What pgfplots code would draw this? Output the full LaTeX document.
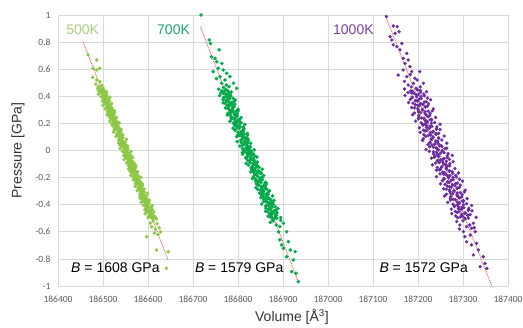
\documentclass[border=0pt]{standalone}
\usepackage{pgfplots}
\pgfplotsset{compat=1.18}
\usepackage{fontspec}
\setmainfont{Liberation Sans}
\newfontfamily\carlito{Carlito}
\definecolor{gridgray}{RGB}{217,217,217}
\definecolor{tickgray}{RGB}{89,89,89}
\definecolor{cA}{RGB}{140,200,70}
\definecolor{cB}{RGB}{0,170,75}
\definecolor{cC}{RGB}{108,45,160}
\definecolor{lA}{RGB}{165,208,130}
\definecolor{lB}{RGB}{30,165,105}
\definecolor{lC}{RGB}{118,62,168}
\definecolor{fitred}{RGB}{225,85,65}
\begin{document}
\begin{tikzpicture}
\begin{axis}[
  scale only axis, width=450pt, height=271pt,
  xmin=186400, xmax=187400, ymin=-1, ymax=1,
  xtick={186400,186500,186600,186700,186800,186900,187000,187100,187200,187300,187400},
  xticklabels={186400,186500,186600,186700,186800,186900,187000,187100,187200,187300,187400},
  ytick={-1,-0.8,-0.6,-0.4,-0.2,0,0.2,0.4,0.6,0.8,1},
  yticklabels={-1,-0.8,-0.6,-0.4,-0.2,0,0.2,0.4,0.6,0.8,1},
  scaled x ticks=false,
  xmajorgrids, ymajorgrids,
  grid style={gridgray, line width=0.7pt},
  axis line style={gridgray, line width=0.7pt},
  major tick length=0pt,
  ticklabel style={font=\carlito\fontsize{9.5}{11}\selectfont, text=tickgray},
  xticklabel style={yshift=-6pt},
  yticklabel style={xshift=-4pt},
  xlabel={Volume [Å\textsuperscript{3}]},
  ylabel={Pressure [GPa]},
  label style={font=\fontsize{14}{16}\selectfont, text=black!80},
  xlabel style={at={(axis description cs:0.52,-0.114)}, anchor=center},
  ylabel style={at={(axis description cs:-0.0889,0.5)}, anchor=center},
]
% 500K
\addplot[only marks, mark=*, mark size=1.6pt, color=cA] table[row sep=\\]{x y\\
186494 0.453\\186502 0.446\\186490 0.443\\186499 0.436\\186508 0.433\\186494 0.426\\186502 0.423\\186490 0.416\\186508 0.413\\186501 0.406\\186507 0.403\\186496 0.396\\186515 0.393\\186502 0.386\\186512 0.383\\186501 0.376\\186506 0.373\\186514 0.366\\186499 0.363\\186511 0.356\\186503 0.353\\186519 0.346\\186507 0.343\\186512 0.336\\186500 0.333\\186516 0.326\\186513 0.323\\186507 0.316\\186520 0.313\\186505 0.306\\186519 0.303\\186525 0.296\\186515 0.293\\186510 0.286\\186526 0.283\\186520 0.276\\186514 0.273\\186524 0.266\\186509 0.263\\186519 0.256\\186524 0.253\\186514 0.246\\186530 0.243\\186520 0.236\\186518 0.233\\186528 0.226\\186525 0.223\\186515 0.216\\186531 0.213\\186522 0.206\\186536 0.203\\186520 0.196\\186527 0.193\\186532 0.186\\186521 0.183\\186531 0.176\\186535 0.173\\186526 0.166\\186531 0.163\\186540 0.156\\186525 0.153\\186535 0.146\\186540 0.143\\186523 0.136\\186537 0.133\\186533 0.126\\186531 0.123\\186544 0.116\\186541 0.113\\186536 0.106\\186529 0.103\\186544 0.096\\186540 0.093\\186536 0.086\\186552 0.083\\186535 0.076\\186540 0.073\\186545 0.066\\186549 0.063\\186535 0.056\\
186541 0.053\\186549 0.046\\186537 0.043\\186546 0.036\\186555 0.033\\186541 0.026\\186550 0.023\\186538 0.016\\186555 0.013\\186548 0.006\\186554 0.003\\186543 -0.004\\186562 -0.007\\186549 -0.014\\186559 -0.017\\186548 -0.024\\186554 -0.027\\186562 -0.034\\186546 -0.037\\186558 -0.044\\186550 -0.047\\186566 -0.054\\186554 -0.057\\186559 -0.064\\186547 -0.067\\186563 -0.074\\186560 -0.077\\186554 -0.084\\186568 -0.087\\186553 -0.094\\186566 -0.097\\186572 -0.104\\186562 -0.107\\186557 -0.114\\186573 -0.117\\186567 -0.124\\186561 -0.127\\186571 -0.134\\186557 -0.137\\186567 -0.144\\186571 -0.147\\186561 -0.154\\186577 -0.157\\186567 -0.164\\186565 -0.167\\186575 -0.174\\186572 -0.177\\186562 -0.184\\186578 -0.187\\186569 -0.194\\186584 -0.197\\186568 -0.204\\186574 -0.207\\186579 -0.214\\186568 -0.217\\186578 -0.224\\186582 -0.227\\186573 -0.234\\186578 -0.237\\186587 -0.244\\186573 -0.247\\186583 -0.254\\186588 -0.257\\186571 -0.264\\186584 -0.267\\186580 -0.274\\186578 -0.277\\186591 -0.284\\186588 -0.287\\186583 -0.294\\186576 -0.297\\186591 -0.304\\186588 -0.307\\186584 -0.314\\186599 -0.317\\186582 -0.324\\186587 -0.327\\186592 -0.334\\186596 -0.337\\186582 -0.344\\186588 -0.347\\186596 -0.354\\186584 -0.357\\186593 -0.364\\186603 -0.367\\186589 -0.374\\186597 -0.377\\186585 -0.384\\186602 -0.387\\186595 -0.394\\186601 -0.397\\186590 -0.404\\186609 -0.407\\186596 -0.414\\186607 -0.417\\186596 -0.424\\186601 -0.427\\186609 -0.434\\186593 -0.437\\186605 -0.444\\186597 -0.447\\186613 -0.454\\186601 -0.457\\186606 -0.464\\186594 -0.467\\186610 -0.474\\186608 -0.477\\186602 -0.484\\186615 -0.487\\186600 -0.494\\186613 -0.497\\186619 -0.504\\
186467 0.705\\186486 0.668\\186478 0.607\\186486 0.594\\186493 0.607\\186477 0.54\\186486 0.52\\186493 0.508\\186484 0.49\\186497 0.48\\186490 0.47\\186500 0.462\\186488 0.458\\186612 -0.52\\186605 -0.535\\186620 -0.54\\186608 -0.562\\186616 -0.58\\186625 -0.57\\186597 -0.636\\186614 -0.61\\186619 -0.734\\186645 -0.747\\186641 -0.87\\186622 -0.62\\186628 -0.6\\
186499 0.45\\186495 0.44\\186503 0.43\\186499 0.42\\186502 0.41\\186506 0.40\\186500 0.39\\186506 0.38\\186504 0.37\\186513 0.36\\186504 0.35\\186512 0.34\\186510 0.33\\186515 0.32\\186510 0.31\\186515 0.30\\186520 0.29\\186515 0.28\\186519 0.27\\186515 0.26\\186523 0.25\\186519 0.24\\186527 0.23\\186523 0.22\\186525 0.21\\186529 0.20\\186524 0.19\\186530 0.18\\186528 0.17\\186536 0.16\\186527 0.15\\186535 0.14\\186534 0.13\\186539 0.12\\186534 0.11\\186538 0.10\\186543 0.09\\186539 0.08\\186543 0.07\\186539 0.06\\186546 0.05\\186542 0.04\\186550 0.03\\186547 0.02\\186549 0.01\\186553 0.00\\186547 -0.01\\186553 -0.02\\186552 -0.03\\186560 -0.04\\186551 -0.05\\186559 -0.06\\186557 -0.07\\186562 -0.08\\186558 -0.09\\186562 -0.10\\186567 -0.11\\186562 -0.12\\186566 -0.13\\186563 -0.14\\186570 -0.15\\186566 -0.16\\186574 -0.17\\186570 -0.18\\186572 -0.19\\186577 -0.20\\186571 -0.21\\186577 -0.22\\186575 -0.23\\186583 -0.24\\186575 -0.25\\186583 -0.26\\186581 -0.27\\186586 -0.28\\186581 -0.29\\186585 -0.30\\186591 -0.31\\186586 -0.32\\186590 -0.33\\186586 -0.34\\186593 -0.35\\186589 -0.36\\186598 -0.37\\186594 -0.38\\186596 -0.39\\186600 -0.40\\186594 -0.41\\186601 -0.42\\186599 -0.43\\186607 -0.44\\186598 -0.45\\186606 -0.46\\186604 -0.47\\186610 -0.48\\186605 -0.49\\186609 -0.50\\
};
% 700K
\addplot[only marks, mark=*, mark size=1.6pt, color=cB] table[row sep=\\]{x y\\
186757 0.452\\186773 0.445\\186777 0.442\\186767 0.435\\186785 0.432\\186762 0.425\\186767 0.422\\186782 0.415\\186776 0.412\\186759 0.405\\186784 0.402\\186774 0.395\\186769 0.392\\186789 0.385\\186781 0.382\\186767 0.375\\186794 0.372\\186774 0.365\\186778 0.362\\186786 0.355\\186767 0.352\\186782 0.345\\186793 0.342\\186776 0.335\\186779 0.332\\186791 0.325\\186789 0.322\\186772 0.315\\186776 0.312\\186800 0.305\\186787 0.302\\186782 0.295\\186800 0.292\\186791 0.285\\186783 0.282\\186778 0.275\\186798 0.272\\186792 0.265\\186776 0.262\\186798 0.255\\186796 0.252\\186785 0.245\\186807 0.242\\186792 0.235\\186785 0.232\\186800 0.225\\186802 0.222\\186782 0.215\\186798 0.212\\186807 0.205\\186790 0.202\\186795 0.195\\186815 0.192\\186793 0.185\\186798 0.182\\186805 0.175\\186812 0.172\\186789 0.165\\186802 0.162\\186812 0.155\\186793 0.152\\186810 0.145\\186812 0.142\\186800 0.135\\186801 0.132\\186821 0.125\\186810 0.122\\186799 0.115\\186821 0.112\\186809 0.105\\186797 0.102\\186813 0.095\\186816 0.092\\186822 0.085\\186809 0.082\\186806 0.075\\186823 0.072\\186798 0.065\\186815 0.062\\186821 0.055\\
186828 0.052\\186812 0.045\\186810 0.042\\186820 0.035\\186804 0.032\\186827 0.025\\186825 0.022\\186810 0.015\\186819 0.012\\186836 0.005\\186813 0.002\\186823 -0.005\\186830 -0.008\\186810 -0.015\\186820 -0.018\\186834 -0.025\\186810 -0.028\\186830 -0.035\\186829 -0.038\\186821 -0.045\\186842 -0.048\\186827 -0.055\\186818 -0.058\\186835 -0.065\\186834 -0.068\\186822 -0.075\\186826 -0.078\\186843 -0.085\\186842 -0.088\\186818 -0.095\\186834 -0.098\\186839 -0.105\\186823 -0.108\\186832 -0.115\\186842 -0.118\\186847 -0.125\\186829 -0.128\\186835 -0.135\\186854 -0.138\\186832 -0.145\\186837 -0.148\\186848 -0.155\\186828 -0.158\\186843 -0.165\\186852 -0.168\\186837 -0.175\\186837 -0.178\\186857 -0.185\\186843 -0.188\\186834 -0.195\\186854 -0.198\\186849 -0.205\\186832 -0.208\\186854 -0.215\\186851 -0.218\\186844 -0.225\\186839 -0.228\\186862 -0.235\\186851 -0.238\\186841 -0.245\\186863 -0.248\\186846 -0.255\\186846 -0.258\\186858 -0.265\\186860 -0.268\\186840 -0.275\\186853 -0.278\\186864 -0.285\\186844 -0.288\\186856 -0.295\\186870 -0.298\\186854 -0.305\\186854 -0.308\\186848 -0.315\\186864 -0.318\\186867 -0.325\\186852 -0.328\\186877 -0.335\\186862 -0.338\\186856 -0.345\\
186851 -0.348\\186867 -0.355\\186871 -0.358\\186861 -0.365\\186880 -0.368\\186857 -0.375\\186862 -0.378\\186877 -0.385\\186870 -0.388\\186853 -0.395\\186878 -0.398\\186868 -0.405\\186863 -0.408\\186883 -0.415\\186876 -0.418\\186862 -0.425\\186889 -0.428\\186869 -0.435\\186872 -0.438\\186880 -0.445\\186861 -0.448\\186876 -0.455\\186887 -0.458\\186870 -0.465\\186873 -0.468\\186885 -0.475\\186884 -0.478\\186867 -0.485\\186871 -0.488\\186895 -0.495\\186881 -0.498\\186876 -0.505\\
186718 1.0\\186736 0.815\\186739 0.79\\186758 0.742\\186741 0.692\\186749 0.68\\186753 0.655\\186764 0.643\\186756 0.607\\186767 0.594\\186775 0.57\\186745 0.582\\186760 0.545\\186782 0.545\\186771 0.52\\186790 0.496\\186797 0.459\\186774 0.483\\186764 0.496\\186752 0.53\\186780 0.47\\186768 0.465\\
186886 -0.5\\186893 -0.562\\186901 -0.537\\186890 -0.599\\186908 -0.599\\186893 -0.66\\186897 -0.697\\186912 -0.673\\186901 -0.722\\186916 -0.734\\186927 -0.747\\186908 -0.784\\186923 -0.808\\186934 -0.968\\186919 -0.894\\186929 -0.906\\186878 -0.52\\186895 -0.515\\186885 -0.55\\186872 -0.53\\
186773 0.45\\186764 0.44\\186779 0.43\\186770 0.42\\186774 0.41\\186781 0.40\\186768 0.39\\186779 0.38\\186774 0.37\\186790 0.36\\186771 0.35\\186786 0.34\\186781 0.33\\186790 0.32\\186779 0.31\\186787 0.30\\186796 0.29\\186785 0.28\\186792 0.27\\186783 0.26\\186797 0.25\\186788 0.24\\186803 0.23\\186794 0.22\\186797 0.21\\186804 0.20\\186792 0.19\\186803 0.18\\186798 0.17\\186813 0.16\\186794 0.15\\186809 0.14\\186805 0.13\\186814 0.12\\186803 0.11\\186810 0.10\\186819 0.09\\186809 0.08\\186816 0.07\\186807 0.06\\186820 0.05\\186811 0.04\\186826 0.03\\186818 0.02\\186821 0.01\\186828 0.00\\186815 -0.01\\186826 -0.02\\186822 -0.03\\186837 -0.04\\186818 -0.05\\186833 -0.06\\186828 -0.07\\186837 -0.08\\186827 -0.09\\186834 -0.10\\186843 -0.11\\186832 -0.12\\186839 -0.13\\186831 -0.14\\186844 -0.15\\186835 -0.16\\186850 -0.17\\186841 -0.18\\186844 -0.19\\186852 -0.20\\186839 -0.21\\186850 -0.22\\186845 -0.23\\186860 -0.24\\186842 -0.25\\186857 -0.26\\186852 -0.27\\186861 -0.28\\186850 -0.29\\186857 -0.30\\186867 -0.31\\186856 -0.32\\186863 -0.33\\186854 -0.34\\186867 -0.35\\186858 -0.36\\186874 -0.37\\186865 -0.38\\186868 -0.39\\186875 -0.40\\186862 -0.41\\186874 -0.42\\186869 -0.43\\186884 -0.44\\186865 -0.45\\186880 -0.46\\186875 -0.47\\186885 -0.48\\186874 -0.49\\186881 -0.50\\
};
% 1000K
\addplot[only marks, mark=*, mark size=1.5pt, color=cC] table[row sep=\\]{x y\\
187170 0.454\\187199 0.447\\187205 0.444\\187188 0.437\\187219 0.434\\187178 0.427\\187186 0.424\\187213 0.417\\187201 0.414\\187171 0.407\\187214 0.404\\187197 0.397\\187187 0.394\\187221 0.387\\187207 0.384\\187183 0.377\\187228 0.374\\187194 0.367\\187199 0.364\\187214 0.357\\187179 0.354\\187206 0.347\\187223 0.344\\187194 0.337\\187199 0.334\\187221 0.327\\187216 0.324\\187186 0.317\\187192 0.314\\187234 0.307\\187210 0.304\\187201 0.297\\187232 0.294\\187216 0.287\\187201 0.284\\187192 0.277\\187227 0.274\\187217 0.267\\187188 0.264\\187226 0.257\\187221 0.254\\187202 0.247\\187239 0.244\\187213 0.237\\187201 0.234\\187227 0.227\\187230 0.224\\187195 0.217\\187221 0.214\\187237 0.207\\187207 0.204\\187216 0.197\\187249 0.194\\187211 0.187\\187219 0.184\\187231 0.177\\187242 0.174\\187203 0.167\\187225 0.164\\187241 0.157\\
187249 0.154\\187220 0.147\\187216 0.144\\187233 0.137\\187205 0.134\\187246 0.127\\187240 0.124\\187213 0.117\\187228 0.114\\187258 0.107\\187217 0.104\\187234 0.097\\187246 0.094\\187212 0.087\\187229 0.084\\187253 0.077\\187210 0.074\\187244 0.067\\187242 0.064\\187227 0.057\\187264 0.054\\187237 0.047\\187222 0.044\\187251 0.037\\187248 0.034\\187226 0.027\\187234 0.024\\187264 0.017\\187260 0.014\\187218 0.007\\187245 0.004\\187254 -0.003\\187225 -0.006\\187241 -0.013\\187258 -0.016\\187267 -0.023\\187235 -0.026\\187245 -0.033\\187276 -0.036\\187238 -0.043\\187246 -0.046\\187265 -0.053\\187230 -0.056\\187256 -0.063\\187270 -0.066\\187244 -0.073\\187243 -0.076\\187278 -0.083\\187255 -0.086\\187239 -0.093\\187271 -0.096\\187262 -0.103\\187232 -0.106\\187270 -0.113\\187264 -0.116\\187252 -0.123\\187243 -0.126\\187282 -0.133\\187263 -0.136\\187247 -0.143\\
187241 -0.146\\187270 -0.153\\187276 -0.156\\187259 -0.163\\187290 -0.166\\187249 -0.173\\187257 -0.176\\187284 -0.183\\187271 -0.186\\187241 -0.193\\187285 -0.196\\187268 -0.203\\187258 -0.206\\187292 -0.213\\187278 -0.216\\187254 -0.223\\187299 -0.226\\187265 -0.233\\187269 -0.236\\187284 -0.243\\187250 -0.246\\187277 -0.253\\187294 -0.256\\187265 -0.263\\187270 -0.266\\187292 -0.273\\187287 -0.276\\187257 -0.283\\187263 -0.286\\187305 -0.293\\187280 -0.296\\187271 -0.303\\187303 -0.306\\187287 -0.313\\187272 -0.316\\187263 -0.323\\187298 -0.326\\187288 -0.333\\187259 -0.336\\187297 -0.343\\187291 -0.346\\187272 -0.353\\187309 -0.356\\187283 -0.363\\187272 -0.366\\187298 -0.373\\187301 -0.376\\187266 -0.383\\187292 -0.386\\187308 -0.393\\187278 -0.396\\187287 -0.403\\187319 -0.406\\187281 -0.413\\187290 -0.416\\187302 -0.423\\187313 -0.426\\187274 -0.433\\187296 -0.436\\187312 -0.443\\187320 -0.446\\187291 -0.453\\187287 -0.456\\187304 -0.463\\187275 -0.466\\187316 -0.473\\187311 -0.476\\187284 -0.483\\187299 -0.486\\187329 -0.493\\187288 -0.496\\187305 -0.503\\
187130 0.988\\187145 0.919\\187154 0.914\\187158 0.877\\187149 0.865\\187142 0.815\\187145 0.779\\187153 0.766\\187164 0.79\\187160 0.742\\187167 0.68\\187171 0.643\\187156 0.557\\187182 0.619\\187186 0.582\\187204 0.582\\187175 0.545\\187193 0.533\\187190 0.496\\187212 0.496\\187178 0.483\\187196 0.459\\187167 0.594\\187178 0.668\\187138 0.84\\187175 0.717\\187183 0.56\\187198 0.52\\187170 0.51\\187205 0.47\\187185 0.47\\
187308 -0.562\\187323 -0.537\\187301 -0.599\\187316 -0.624\\187327 -0.599\\187308 -0.673\\187319 -0.697\\187330 -0.685\\187334 -0.734\\187323 -0.771\\187345 -0.784\\187338 -0.858\\187353 -0.87\\187349 -0.833\\187304 -0.636\\187293 -0.55\\187312 -0.5\\187286 -0.525\\187319 -0.574\\187300 -0.52\\187315 -0.55\\187292 -0.58\\187325 -0.57\\
187198 0.45\\187184 0.44\\187206 0.43\\187192 0.42\\187197 0.41\\187207 0.40\\187187 0.39\\187203 0.38\\187195 0.37\\187218 0.36\\187189 0.35\\187211 0.34\\187203 0.33\\187216 0.32\\187199 0.31\\187210 0.30\\187223 0.29\\187206 0.28\\187216 0.27\\187202 0.26\\187222 0.25\\187208 0.24\\187230 0.23\\187216 0.22\\187220 0.21\\187230 0.20\\187211 0.19\\187227 0.18\\187219 0.17\\187241 0.16\\187212 0.15\\187234 0.14\\187227 0.13\\187240 0.12\\187223 0.11\\187233 0.10\\187246 0.09\\187230 0.08\\187240 0.07\\187226 0.06\\187245 0.05\\187231 0.04\\187253 0.03\\187240 0.02\\187244 0.01\\187254 0.00\\187234 -0.01\\187250 -0.02\\187243 -0.03\\187265 -0.04\\187236 -0.05\\187258 -0.06\\187250 -0.07\\187263 -0.08\\187247 -0.09\\187257 -0.10\\187270 -0.11\\187253 -0.12\\187263 -0.13\\187250 -0.14\\187269 -0.15\\187255 -0.16\\187277 -0.17\\187263 -0.18\\187267 -0.19\\187278 -0.20\\187258 -0.21\\187274 -0.22\\187266 -0.23\\187288 -0.24\\187260 -0.25\\187282 -0.26\\187274 -0.27\\187287 -0.28\\187270 -0.29\\187280 -0.30\\187294 -0.31\\187277 -0.32\\187287 -0.33\\187273 -0.34\\187292 -0.35\\187278 -0.36\\187301 -0.37\\187287 -0.38\\187291 -0.39\\187301 -0.40\\187281 -0.41\\187298 -0.42\\187290 -0.43\\187312 -0.44\\187283 -0.45\\187305 -0.46\\187297 -0.47\\187311 -0.48\\187294 -0.49\\187304 -0.50\\
};
% fit lines
\addplot[fitred, densely dotted, line width=0.9pt] coordinates {(186456,0.8) (186645,-0.81)};
\addplot[fitred, densely dotted, line width=0.9pt] coordinates {(186717,0.91) (186934,-0.97)};
\addplot[fitred, densely dotted, line width=0.9pt] coordinates {(187127,1.0) (187364,-1.0)};
% labels
\node[anchor=west, inner sep=0pt, text=lA, font=\fontsize{14}{16}\selectfont] at (axis cs:186418,0.89) {500K};
\node[anchor=west, inner sep=0pt, text=lB, font=\fontsize{14}{16}\selectfont] at (axis cs:186620,0.89) {700K};
\node[anchor=west, inner sep=0pt, text=lC, font=\fontsize{14}{16}\selectfont] at (axis cs:187011,0.89) {1000K};
\node[anchor=west, inner sep=0pt, font=\fontsize{14}{16}\selectfont] at (axis cs:186429,-0.867) {\itshape B\upshape{} = 1608 GPa};
\node[anchor=west, inner sep=0pt, font=\fontsize{14}{16}\selectfont] at (axis cs:186704,-0.867) {\itshape B\upshape{} = 1579 GPa};
\node[anchor=west, inner sep=0pt, font=\fontsize{14}{16}\selectfont] at (axis cs:187114,-0.867) {\itshape B\upshape{} = 1572 GPa};
\end{axis}
\pgfresetboundingbox
\path ([shift={(-58pt,-42pt)}]current axis.south west) rectangle ([shift={(15pt,15pt)}]current axis.north east);
\end{tikzpicture}
\end{document}
